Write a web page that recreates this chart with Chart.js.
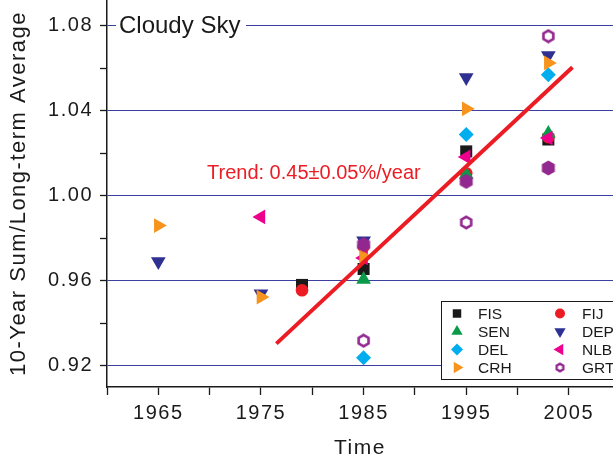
<!DOCTYPE html>
<html>
<head>
<meta charset="utf-8">
<script src="https://cdn.jsdelivr.net/npm/chart.js@4"></script>
<style>
  body { margin: 0; background: #fff; }
  canvas { display: block; }
</style>
</head>
<body>
<canvas id="myChart" width="613" height="461"></canvas>
<script>
// tick labels
const xTickLabels = [1965, 1975, 1985, 1995, 2005];
const yTickLabels = [0.92, 0.96, 1.00, 1.04, 1.08];

// station series
const fisYears = [1979, 1985, 1995, 2003];
const fisValues = [0.958, 0.9655, 1.0208, 1.0264];
const fijYears = [1979, 1985, 1995, 2003];
const fijValues = [0.9555, 0.976, 1.0105, 1.0275];
const senYears = [1985, 1995, 2003];
const senValues = [0.9605, 1.0099, 1.0292];
const delYears = [1985, 1995, 2003];
const delValues = [0.9237, 1.0287, 1.0569];
const depYears = [1965, 1975, 1985, 1995, 2003];
const depValues = [0.969, 0.9539, 0.9788, 1.0555, 1.0659];
const crhYears = [1965, 1975, 1985, 1995, 2003];
const crhValues = [0.9859, 0.9523, 0.9714, 1.0408, 1.0624];
const nlbYears = [1975, 1985, 1995, 2003];
const nlbValues = [0.990, 0.9707, 1.0182, 1.0271];
const grtYears = [1985, 1995, 2003];
const grtValues = [0.9318, 0.9874, 1.075];
// filled purple hexagons (not in the legend)
const meanYears = [1985, 1995, 2003];
const meanValues = [0.977, 1.0067, 1.013];

// trend line end points
const trendYears = [1976.5, 2005.35];
const trendValues = [0.9304, 1.0604];

function pts(xs, ys) {
    return xs.map(function (x, i) { return { x: x, y: ys[i] }; });
}

function hexagon(size, filled, color, lw) {
    var c = document.createElement('canvas');
    c.width = size; c.height = size;
    var g = c.getContext('2d');
    var r = size / 2 - (filled ? 0.5 : lw / 2 + 0.5);
    g.beginPath();
    for (var i = 0; i < 6; i++) {
        var a = Math.PI / 3 * i;
        var px = size / 2 + Math.sin(a) * r;
        var py = size / 2 - Math.cos(a) * r;
        if (i == 0) g.moveTo(px, py); else g.lineTo(px, py);
    }
    g.closePath();
    if (filled) { g.fillStyle = color; g.fill(); }
    else { g.strokeStyle = color; g.lineWidth = lw; g.stroke(); }
    return c;
}

var purple = '#92278f';
var hexOpen = hexagon(15, false, purple, 2.6);
var hexFull = hexagon(16, true, purple, 0);
var hexOpenSmall = hexagon(11, false, purple, 2.4);

function station(label, xs, ys, color, style, radius, rot, order) {
    return {
        label: label,
        data: pts(xs, ys),
        backgroundColor: color,
        borderColor: color,
        pointStyle: style,
        pointRadius: radius,
        pointRotation: rot,
        pointBorderWidth: 0,
        order: order
    };
}

var datasets = [
    {
        type: 'line',
        label: 'Trend',
        data: pts(trendYears, trendValues),
        borderColor: '#ec1c24',
        borderWidth: 4,
        pointRadius: 0,
        order: 0
    },
    station('Mean', meanYears, meanValues, purple, hexFull, 8, 0, 1),
    station('GRT', grtYears, grtValues, purple, hexOpen, 8, 0, 2),
    station('CRH', crhYears, crhValues, '#f7941d', 'triangle', 8.5, 90, 3),
    station('NLB', nlbYears, nlbValues, '#ec008c', 'triangle', 8.5, -90, 4),
    station('DEP', depYears, depValues, '#2e3192', 'triangle', 8.5, 180, 5),
    station('SEN', senYears, senValues, '#0a9a4a', 'triangle', 8.5, 0, 6),
    station('FIJ', fijYears, fijValues, '#ec1c24', 'circle', 6.3, 0, 7),
    station('FIS', fisYears, fisValues, '#1a1a1a', 'rect', 8.5, 0, 8),
    station('DEL', delYears, delValues, '#00aeef', 'rectRot', 7.5, 0, 9)
];

// legend order in the figure: two columns
var legendItems = [
    ['FIS', '#1a1a1a', 'rect', 6, 0], ['FIJ', '#ec1c24', 'circle', 5, 0],
    ['SEN', '#0a9a4a', 'triangle', 6.5, 0], ['DEP', '#2e3192', 'triangle', 6.5, 180],
    ['DEL', '#00aeef', 'rectRot', 6, 0], ['NLB', '#ec008c', 'triangle', 6.5, -90],
    ['CRH', '#f7941d', 'triangle', 6.5, 90], ['GRT', purple, hexOpenSmall, 5, 0]
];

const decor = {
    id: 'decor',
    beforeDraw(chart) {
        chart.ctx.letterSpacing = '1.5px';
    },
    beforeDatasetsDraw(chart) {
        var ctx = chart.ctx;
        ctx.letterSpacing = '0px';
        ctx.save();
        ctx.fillStyle = '#fff';
        ctx.fillRect(116, 10, 130, 30);
        ctx.fillStyle = '#1a1a1a';
        ctx.font = '24px "Liberation Sans", Arial, sans-serif';
        ctx.textBaseline = 'alphabetic';
        ctx.fillText('Cloudy Sky', 119, 33);
        ctx.fillStyle = '#ec1c24';
        ctx.font = '20px "Liberation Sans", Arial, sans-serif';
        ctx.fillText('Trend: 0.45\u00b10.05%/year', 207, 179);
        ctx.restore();
    },
    afterDraw(chart) {
        var ctx = chart.ctx;
        ctx.save();
        ctx.letterSpacing = '0px';
        ctx.fillStyle = '#fff';
        ctx.strokeStyle = '#1a1a1a';
        ctx.lineWidth = 1;
        ctx.fillRect(441, 301, 180, 79);
        ctx.strokeRect(441.5, 301.5, 180, 78);
        ctx.font = '15.5px "Liberation Sans", Arial, sans-serif';
        ctx.textBaseline = 'middle';
        legendItems.forEach(function (it, i) {
            var col = i % 2, row = Math.floor(i / 2);
            var mx = col == 0 ? 457 : 560;
            var tx = col == 0 ? 478 : 582;
            var y = 313.5 + row * 18;
            ctx.fillStyle = it[1];
            ctx.strokeStyle = it[1];
            Chart.helpers.drawPoint(ctx, {
                pointStyle: it[2], radius: it[3], rotation: it[4], borderWidth: 0
            }, mx, y);
            ctx.fillStyle = '#1a1a1a';
            ctx.fillText(it[0], tx, y + 1);
        });
        ctx.restore();
    }
};

new Chart(document.getElementById('myChart'), {
    type: 'scatter',
    data: { datasets: datasets },
    plugins: [decor],
    options: {
        responsive: false,
        animation: false,
        events: [],
        layout: { padding: 0, autoPadding: false },
        plugins: {
            legend: { display: false },
            tooltip: { enabled: false }
        },
        scales: {
            x: {
                type: 'linear',
                min: 1960,
                max: 2009.3,
                afterBuildTicks(scale) {
                    var t = [];
                    for (var v = 1960; v <= 2005; v += 5) t.push({ value: v });
                    scale.ticks = t;
                },
                afterFit(scale) {
                    scale.height = 74;
                    scale.paddingLeft = 0;
                    scale.paddingRight = 0;
                },
                ticks: {
                    autoSkip: false,
                    maxRotation: 0,
                    padding: 6,
                    color: '#1a1a1a',
                    font: { family: '"Liberation Sans", Arial, sans-serif', size: 20 },
                    callback: function (v) {
                        return xTickLabels.indexOf(v) >= 0 ? String(v) : '';
                    }
                },
                grid: {
                    drawOnChartArea: false,
                    tickLength: 8,
                    tickColor: '#1a1a1a',
                    tickWidth: 1.3
                },
                border: { color: '#1a1a1a', width: 1.5 },
                title: {
                    display: true,
                    text: 'Time',
                    color: '#1a1a1a',
                    font: { family: '"Liberation Sans", Arial, sans-serif', size: 21 },
                    padding: { top: 0, bottom: 0 }
                }
            },
            y: {
                type: 'linear',
                min: 0.91,
                max: 1.092,
                afterBuildTicks(scale) {
                    var t = [];
                    for (var k = 0; k <= 8; k++) t.push({ value: Math.round((0.92 + k * 0.02) * 100) / 100 });
                    scale.ticks = t;
                },
                afterFit(scale) {
                    scale.width = 107;
                    scale.paddingTop = 0;
                    scale.paddingBottom = 0;
                },
                ticks: {
                    autoSkip: false,
                    padding: 7,
                    color: '#1a1a1a',
                    font: { family: '"Liberation Sans", Arial, sans-serif', size: 20 },
                    callback: function (v) {
                        return yTickLabels.some(function (l) { return Math.abs(l - v) < 1e-6; }) ? v.toFixed(2) : '';
                    }
                },
                grid: {
                    color: function (c) {
                        return c.index % 2 === 0 ? '#3b3fa0' : 'rgba(0,0,0,0)';
                    },
                    lineWidth: 1,
                    tickLength: 7,
                    tickColor: '#1a1a1a',
                    tickWidth: 1.3
                },
                border: { color: '#1a1a1a', width: 1.5 },
                title: {
                    display: true,
                    text: '10-Year Sum/Long-term Average',
                    color: '#1a1a1a',
                    font: { family: '"Liberation Sans", Arial, sans-serif', size: 22 },
                    padding: { top: 6, bottom: 0 }
                }
            }
        }
    }
});
</script>
</body>
</html>
